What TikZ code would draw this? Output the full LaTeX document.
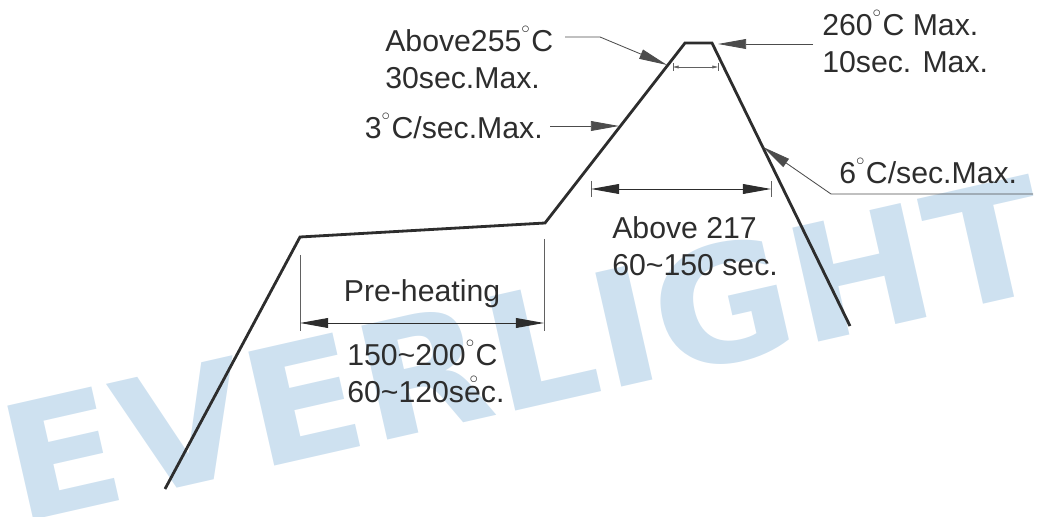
\documentclass[tikz,border=0pt]{standalone}
\usepackage{fontspec}
\setmainfont{Liberation Sans}
\newfontfamily\wmfont{DejaVu Sans}
\usetikzlibrary{arrows.meta, calc}
\definecolor{wmblue}{RGB}{206,225,240}
\definecolor{ink}{RGB}{45,45,45}
\newcommand{\dg}{\raisebox{0.6em}{\fontsize{12}{12}\selectfont$\circ$}\kern1pt}
\newcommand{\dimmark}[3]{%
  \draw[extline] ($(#1)+(0,-#3)$) -- ($(#1)+(0,#3)$);
  \draw[extline] ($(#2)+(0,-#3)$) -- ($(#2)+(0,#3)$);
}
\tikzset{
  profile/.style={draw=ink, line width=2pt, line join=miter},
  leader/.style={draw=ink!85, line width=0.6pt, -{Triangle[length=20pt,width=7pt]}},
  dimline/.style={draw=ink, line width=0.7pt, {Triangle[length=20pt,width=7pt]}-{Triangle[length=20pt,width=7pt]}},
  extline/.style={draw=ink!75, line width=0.5pt},
  lbl/.style={text=ink, font=\fontsize{21.5}{26.2}\selectfont, inner sep=0pt, align=left},
  wmark/.style={text=wmblue, font=\wmfont\bfseries\fontsize{114}{114}\selectfont, inner sep=0pt,
    anchor=base west, rotate=12.8, xscale=1.06}
}

\begin{document}
\begin{tikzpicture}[x=0.025cm, y=-0.025cm]
  \useasboundingbox (0,0) rectangle (1046,517);
  \node[wmark] (logo) at (18,524) {EVERLIGHT};

  \coordinate (A) at (165,489);
  \coordinate (B) at (300,237);
  \coordinate (C) at (545,223);
  \coordinate (D) at (685,43);
  \coordinate (E) at (712,43);
  \coordinate (F) at (850,326);
  \draw[profile] (A) -- (B) -- (C) -- (D) -- (E) -- (F);

  \coordinate (PHl) at (300,323);
  \coordinate (PHr) at (544,323);
  \draw[extline] (PHl) ++(0,-68) -- ++(0,76);
  \draw[extline] (PHr) ++(0,-84) -- ++(0,92);
  \draw[dimline] (PHl) -- (PHr);

  \coordinate (ALl) at (591,189);
  \coordinate (ALr) at (771,189);
  \dimmark{ALl}{ALr}{8}
  \draw[dimline] (ALl) -- (ALr);

  \coordinate (PKl) at (673,67);
  \coordinate (PKr) at (718,67);
  \dimmark{PKl}{PKr}{4}
  \draw[extline, {Triangle[length=4pt,width=2pt]}-{Triangle[length=4pt,width=2pt]}] (PKl) -- (PKr);

  \node[lbl, anchor=west] (hot) at (385,57) {Above255\dg C\\30sec.Max.};
  \node[lbl, anchor=east] (rise) at (543,126) {3\dg C/sec.Max.};
  \node[lbl, anchor=west] (peak) at (822,41) {260\dg C Max.\\10sec. Max.};
  \node[lbl, anchor=west] (fall) at (839,171) {6\dg C/sec.Max.};
  \node[lbl] (pre) at (422,294) {Pre-heating};
  \node[lbl, anchor=west] (soak) at (347,371) {150\textasciitilde200\dg C\\60\textasciitilde120s\rlap{\hspace{0.18em}\raisebox{0.6em}{\fontsize{12}{12}\selectfont$\circ$}}ec.};
  \node[lbl, anchor=west] (liq) at (612,246) {Above 217\\60\textasciitilde150 sec.};

  \coordinate (L1a) at (565,37);
  \coordinate (L1b) at (600,37);
  \coordinate (L1t) at (667,65);
  \draw[leader] (L1a) -- (L1b) -- (L1t);
  \coordinate (L2a) at (550,126);
  \coordinate (L2t) at (619,126);
  \draw[leader] (L2a) -- (L2t);
  \coordinate (L3a) at (813,44);
  \coordinate (L3t) at (718,44);
  \draw[leader] (L3a) -- (L3t);
  \coordinate (L4a) at (1033,194);
  \coordinate (L4b) at (831,194);
  \coordinate (L4t) at (763,147);
  \draw[leader] (L4a) -- (L4b) -- (L4t);
\end{tikzpicture}
\end{document}
